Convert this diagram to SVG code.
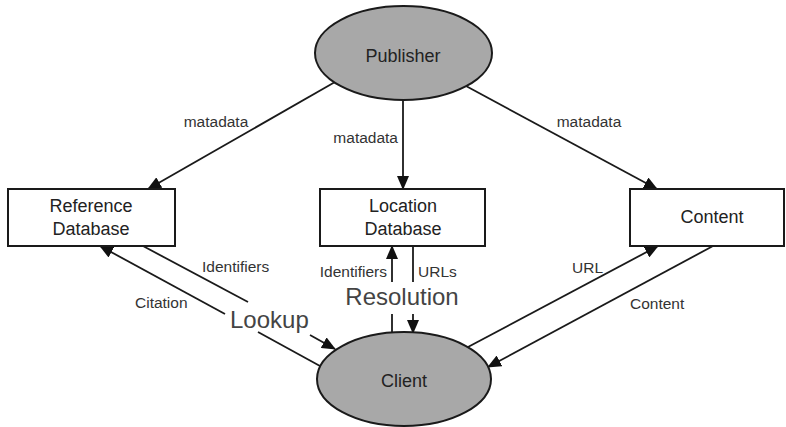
<svg xmlns="http://www.w3.org/2000/svg" width="786" height="427" viewBox="0 0 786 427">
<defs>
<marker id="arr" markerUnits="userSpaceOnUse" markerWidth="14" markerHeight="12" refX="13" refY="6" orient="auto">
<path d="M0,0 L14,6 L0,12 z" fill="#111"/>
</marker>
<style>
.node{fill:#fff;stroke:#1a1a1a;stroke-width:2}
.oval{fill:#a8a8a8;stroke:#1a1a1a;stroke-width:2}
.nt{font-family:"Liberation Sans",Arial,sans-serif;font-size:18px;fill:#222;text-anchor:middle}
.lb{font-family:"Liberation Sans",Arial,sans-serif;font-size:15.5px;fill:#333}
.big{font-family:"Liberation Sans",Arial,sans-serif;font-size:24px;fill:#444}
.c{fill:none;stroke:#1a1a1a;stroke-width:1.8}
</style>
</defs>
<rect width="786" height="427" fill="#fff"/>
<g id="connectors">
<line class="c" x1="335" y1="82" x2="148" y2="189" marker-end="url(#arr)"/>
<line class="c" x1="403" y1="100" x2="403" y2="189" marker-end="url(#arr)"/>
<line class="c" x1="466" y1="86" x2="657" y2="189" marker-end="url(#arr)"/>
<line class="c" x1="143" y1="246" x2="248" y2="302"/>
<line class="c" x1="310" y1="335" x2="335" y2="349" marker-end="url(#arr)"/>
<line class="c" x1="320" y1="366" x2="258" y2="332"/>
<line class="c" x1="225" y1="314" x2="100" y2="246" marker-end="url(#arr)"/>
<line class="c" x1="392" y1="282" x2="392" y2="246" marker-end="url(#arr)"/>
<line class="c" x1="413" y1="246" x2="413" y2="282"/>
<line class="c" x1="392" y1="314" x2="392" y2="333"/>
<line class="c" x1="413" y1="314" x2="413" y2="333" marker-end="url(#arr)"/>
<line class="c" x1="468" y1="347" x2="658" y2="246" marker-end="url(#arr)"/>
<line class="c" x1="713" y1="246" x2="488" y2="367" marker-end="url(#arr)"/>
<text class="lb" x="216" y="127" text-anchor="middle">matadata</text>
<text class="lb" x="398" y="143" text-anchor="end">matadata</text>
<text class="lb" x="589" y="127" text-anchor="middle">matadata</text>
<text class="lb" x="202" y="272">Identifiers</text>
<text class="lb" x="135" y="308">Citation</text>
<text class="lb" x="387" y="277" text-anchor="end">Identifiers</text>
<text class="lb" x="418" y="277">URLs</text>
<text class="lb" x="572" y="273">URL</text>
<text class="lb" x="630" y="309">Content</text>
<text class="big" x="230" y="328">Lookup</text>
<text class="big" x="402" y="305" text-anchor="middle">Resolution</text>
</g>
<g id="publisher">
<ellipse class="oval" cx="403.5" cy="53" rx="88.5" ry="47"/>
<text class="nt" x="403" y="62">Publisher</text>
</g>
<g id="reference-db">
<rect class="node" x="8" y="189" width="167" height="57"/>
<text class="nt" x="91" y="212">Reference</text>
<text class="nt" x="91" y="235">Database</text>
</g>
<g id="location-db">
<rect class="node" x="320" y="189" width="165" height="57"/>
<text class="nt" x="403" y="212">Location</text>
<text class="nt" x="403" y="235">Database</text>
</g>
<g id="content">
<rect class="node" x="630" y="189" width="154" height="57"/>
<text class="nt" x="712" y="223">Content</text>
</g>
<g id="client">
<ellipse class="oval" cx="404" cy="379" rx="87" ry="47"/>
<text class="nt" x="404" y="387">Client</text>
</g>
</svg>
